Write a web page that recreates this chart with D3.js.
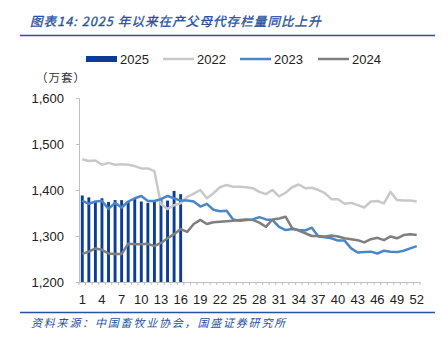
<!DOCTYPE html>
<html><head><meta charset="utf-8">
<script src="https://cdn.jsdelivr.net/npm/d3@7/dist/d3.min.js"></script>
<style>
html,body{margin:0;padding:0;background:#fff;}
svg{display:block;}
</style></head>
<body><svg id="c" width="443" height="343"></svg>
<script>
const weeks = d3.range(1, 53);
const tickLabels = [1,4,7,10,13,16,19,22,25,28,31,34,37,40,43,46,49,52];
const yTicks = [1200,1300,1400,1500,1600];
const seriesNames = ["2025","2022","2023","2024"];
const s2025 = [1388,1384,1376,1382,1374,1378,1378,1376,1381,1375,1372,1375,1380,1377,1398,1391];
const s2022 = [1467,1463,1464,1455,1459,1455,1456,1455,1452,1447,1447,1441,1369,1359,1367,1371,
  1385,1392,1400,1382,1393,1406,1411,1407,1407,1406,1404,1396,1391,1400,1386,1394,1406,1412,1404,1405,
  1400,1393,1380,1380,1370,1372,1367,1362,1375,1376,1371,1396,1378,1377,1377,1375];
const s2023 = [1377,1370,1375,1376,1359,1372,1362,1375,1382,1387,1376,1376,1380,1387,1382,1377,
  1377,1375,1364,1370,1357,1354,1355,1336,1333,1335,1336,1341,1336,1335,1320,1313,1315,1313,1312,1318,
  1299,1297,1295,1290,1290,1273,1264,1265,1266,1262,1268,1266,1265,1268,1273,1278];
const s2024 = [1261,1266,1273,1270,1262,1261,1261,1283,1282,1282,1283,1278,1285,1295,1304,1315,
  1309,1326,1335,1326,1330,1331,1332,1333,1335,1336,1335,1329,1320,1336,1338,1342,1317,1312,1306,1300,
  1300,1299,1301,1299,1295,1293,1291,1286,1293,1296,1291,1299,1295,1302,1304,1302];

const colors = {"2025":"#0b3d96","2022":"#c9c9c9","2023":"#4a86c8","2024":"#7f7f7f"};
const blueText = "#2752a2";

const svg = d3.select("#c");
const x = d3.scaleBand().domain(weeks).range([79, 420]);
const y = d3.scaleLinear().domain([1200, 1600]).range([282, 98]);
const cx = w => x(w) + x.bandwidth()/2;

// title
svg.append("text").attr("x", 30).attr("y", 26)
  .attr("font-family", "'Noto Sans CJK SC', sans-serif").attr("font-size", 12.5)
  .attr("font-style", "italic").attr("font-weight", 400).attr("fill", blueText)
  .attr("stroke", blueText).attr("stroke-width", 0.35)
  .attr("letter-spacing", 1.1)
  .text("图表14:  2025 年以来在产父母代存栏量同比上升");
svg.append("line").attr("x1", 20).attr("x2", 435).attr("y1", 35.5).attr("y2", 35.5)
  .attr("stroke", "#2752a2").attr("stroke-width", 1.5);

// footer
svg.append("line").attr("x1", 20).attr("x2", 435).attr("y1", 312.5).attr("y2", 312.5)
  .attr("stroke", "#2752a2").attr("stroke-width", 1.5);
svg.append("text").attr("x", 31).attr("y", 327)
  .attr("font-family", "'Noto Sans CJK SC', sans-serif").attr("font-size", 11)
  .attr("font-style", "italic").attr("fill", blueText).attr("letter-spacing", 1.8)
  .text("资料来源：中国畜牧业协会，国盛证券研究所");

// unit
svg.append("text").attr("x", 36).attr("y", 82)
  .attr("font-family", "'Noto Sans CJK SC', sans-serif").attr("font-size", 11.5)
  .attr("fill", "#333").attr("letter-spacing", 1)
  .text("（万套）");

// legend
const legX = [86, 163, 240, 318];
const lg = svg.append("g").attr("font-family", "'Liberation Sans', Arial, sans-serif").attr("font-size", 13).attr("fill", "#222");
seriesNames.forEach((n, i) => {
  if (n === "2025") {
    lg.append("rect").attr("x", legX[i]).attr("y", 56).attr("width", 31).attr("height", 6).attr("fill", colors[n]);
  } else {
    lg.append("line").attr("x1", legX[i]).attr("x2", legX[i] + 31).attr("y1", 59).attr("y2", 59)
      .attr("stroke", colors[n]).attr("stroke-width", 2.5);
  }
  lg.append("text").attr("x", legX[i] + 34).attr("y", 63.5).text(n);
});

// y axis
const yAxis = svg.append("g").attr("transform", "translate(79,0)")
  .call(d3.axisLeft(y).tickValues(yTicks).tickFormat(d3.format(",")).tickSize(3).tickPadding(12));
yAxis.select(".domain").attr("stroke", "#bfbfbf");
yAxis.selectAll(".tick line").attr("stroke", "#bfbfbf");
yAxis.selectAll("text").attr("font-family", "'Liberation Sans', Arial, sans-serif").attr("font-size", 13).attr("fill", "#222");

// bars
svg.append("g").selectAll("rect").data(s2025).join("rect")
  .attr("x", (d, i) => cx(weeks[i]) - x.bandwidth()*0.22)
  .attr("width", x.bandwidth()*0.44)
  .attr("y", d => y(d)).attr("height", d => y(1200) - y(d))
  .attr("fill", colors["2025"]);

// x axis
const xAxis = svg.append("g").attr("transform", "translate(0,282)")
  .call(d3.axisBottom(x).tickValues(tickLabels).tickSize(0).tickPadding(13));
xAxis.select(".domain").attr("stroke", "#bfbfbf");
xAxis.selectAll("text").attr("font-family", "'Liberation Sans', Arial, sans-serif").attr("font-size", 13).attr("fill", "#222");
svg.append("g").selectAll("line").data(weeks.concat([53])).join("line")
  .attr("x1", w => w === 53 ? x.range()[1] : x(w)).attr("x2", w => w === 53 ? x.range()[1] : x(w))
  .attr("y1", 282).attr("y2", 285).attr("stroke", "#bfbfbf");

// lines
const line = d3.line().x((d, i) => cx(weeks[i])).y(d => y(d));
[["2022", s2022], ["2023", s2023], ["2024", s2024]].forEach(([n, arr]) => {
  svg.append("path").datum(arr).attr("d", line).attr("fill", "none")
    .attr("stroke", colors[n]).attr("stroke-width", 2.5).attr("stroke-linejoin", "round");
});
</script></body></html>
